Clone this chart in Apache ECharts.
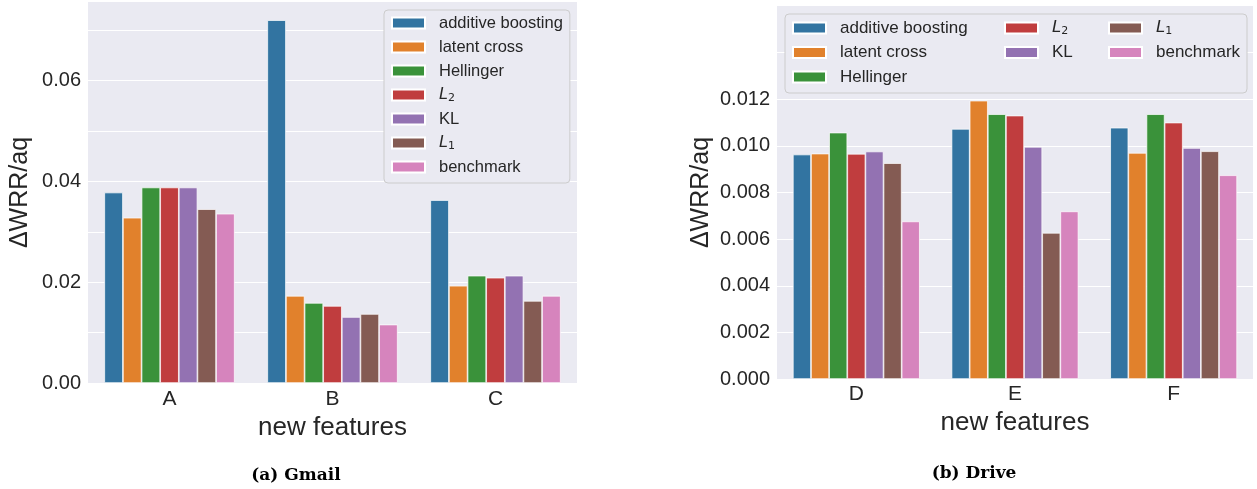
<!DOCTYPE html>
<html>
<head>
<meta charset="utf-8">
<script src="https://cdn.jsdelivr.net/npm/echarts@6/dist/echarts.min.js"></script>
<style>
  html, body { margin: 0; padding: 0; background: #fff; }
  #chart { width: 1257px; height: 489px; }
</style>
</head>
<body>
<div id="chart"></div>
<script>
// ---- data ----------------------------------------------------------------
const methods = ['additive boosting', 'latent cross', 'Hellinger', 'L2', 'KL', 'L1', 'benchmark'];
const palette = ['#3274a1', '#e1812c', '#3a923a', '#c03d3e', '#9372b2', '#845b53', '#d684bd'];

const gmailCats = ['A', 'B', 'C'];
const gmailAdditive  = [0.0378, 0.0720, 0.0363];
const gmailLatent    = [0.0328, 0.0173, 0.0193];
const gmailHellinger = [0.0388, 0.0159, 0.0213];
const gmailL2        = [0.0388, 0.0153, 0.0209];
const gmailKL        = [0.0388, 0.0131, 0.0213];
const gmailL1        = [0.0345, 0.0137, 0.0163];
const gmailBench     = [0.0336, 0.0116, 0.0173];
const gmailTicks = ['0.00', '0.02', '0.04', '0.06'];

const driveCats = ['D', 'E', 'F'];
const driveAdditive  = [0.00963, 0.01073, 0.01078];
const driveLatent    = [0.00967, 0.01194, 0.00970];
const driveHellinger = [0.01057, 0.01136, 0.01136];
const driveL2        = [0.00966, 0.01130, 0.01100];
const driveKL        = [0.00976, 0.00996, 0.00991];
const driveL1        = [0.00926, 0.00627, 0.00977];
const driveBench     = [0.00676, 0.00719, 0.00874];
const driveTicks = ['0.000', '0.002', '0.004', '0.006', '0.008', '0.010', '0.012'];

const gmailData = [gmailAdditive, gmailLatent, gmailHellinger, gmailL2, gmailKL, gmailL1, gmailBench];
const driveData = [driveAdditive, driveLatent, driveHellinger, driveL2, driveKL, driveL1, driveBench];

// ---- styling -------------------------------------------------------------
const textColor = '#262626';
const sans = 'Liberation Sans';
const bg = '#EAEAF2';

function legendName(name) {
  if (name === 'L2') return '{it|L}{sub|2}';
  if (name === 'L1') return '{it|L}{sub|1}';
  return name;
}

function legendText(size) {
  return {
    color: textColor,
    fontFamily: sans,
    fontSize: size,
    lineHeight: 18,
    padding: [0, 0, 0, 9],
    rich: {
      it: { fontStyle: 'italic', fontFamily: 'DejaVu Sans', fontSize: size - 0.5, lineHeight: 18, color: textColor },
      sub: { fontFamily: 'DejaVu Sans', fontSize: 11, lineHeight: 12, verticalAlign: 'bottom', color: textColor }
    }
  };
}

function yAxisFor(gridIndex, max, interval, ticks, decimals, gap) {
  return {
    type: 'value',
    gridIndex: gridIndex,
    min: 0,
    max: max,
    interval: interval,
    name: '\u0394WRR/aq',
    nameLocation: 'middle',
    nameGap: gap,
    nameTextStyle: { fontSize: 25, color: textColor, fontFamily: sans },
    axisLine: { show: false },
    axisTick: { show: false },
    axisLabel: {
      margin: 7,
      fontSize: 20,
      color: textColor,
      fontFamily: sans,
      showMaxLabel: false,
      formatter: function (v) {
        const s = v.toFixed(decimals);
        return ticks.indexOf(s) >= 0 ? s : '';
      }
    },
    splitLine: { show: true, showMaxLine: false, lineStyle: { color: '#ffffff', width: 1.2 } }
  };
}

function xAxisFor(gridIndex, cats, margin, gap) {
  return {
    type: 'category',
    gridIndex: gridIndex,
    data: cats,
    name: 'new features',
    nameLocation: 'middle',
    nameGap: gap,
    nameTextStyle: { fontSize: 26, color: textColor, fontFamily: sans },
    axisLine: { show: false },
    axisTick: { show: false },
    axisLabel: { margin: margin, fontSize: 21, color: textColor, fontFamily: sans }
  };
}

let series = [];
methods.forEach(function (m, i) {
  series.push({
    name: m, type: 'bar', xAxisIndex: 0, yAxisIndex: 0,
    data: gmailData[i],
    barGap: '0%', barCategoryGap: '20%',
    itemStyle: { color: palette[i], borderColor: '#ffffff', borderWidth: 0.7 }
  });
  series.push({
    name: m, type: 'bar', xAxisIndex: 1, yAxisIndex: 1,
    data: driveData[i],
    barGap: '0%', barCategoryGap: '20%',
    itemStyle: { color: palette[i], borderColor: '#ffffff', borderWidth: 0.7 }
  });
});

const chart = echarts.init(document.getElementById('chart'), null, { renderer: 'canvas' });
const option = {
  animation: false,
  color: palette,
  grid: [
    { left: 88, top: 2, width: 489, height: 381, show: true, backgroundColor: bg, borderWidth: 0 },
    { left: 777, top: 6, width: 476, height: 373, show: true, backgroundColor: bg, borderWidth: 0 }
  ],
  xAxis: [
    xAxisFor(0, gmailCats, 6, 29),
    xAxisFor(1, driveCats, 5, 28)
  ],
  yAxis: [
    yAxisFor(0, 0.0756, 0.01, gmailTicks, 2, 55),
    yAxisFor(1, 0.016, 0.002, driveTicks, 3, 63)
  ],
  legend: [
    {
      data: methods, orient: 'vertical', left: 384, top: 10,
      padding: [4, 7, 7, 7], itemGap: 6, itemWidth: 33, itemHeight: 11, icon: 'rect',
      backgroundColor: bg, borderColor: '#cccccc', borderWidth: 1, borderRadius: 4,
      selectedMode: false, formatter: legendName, textStyle: legendText(16.5), z: 10
    },
    {
      data: methods.slice(0, 3), orient: 'vertical', left: 792, top: 19,
      padding: 0, itemGap: 6.5, itemWidth: 33, itemHeight: 11, icon: 'rect',
      selectedMode: false, formatter: legendName, textStyle: legendText(17), z: 10
    },
    {
      data: methods.slice(3, 5), orient: 'vertical', left: 1004, top: 19,
      padding: 0, itemGap: 6.5, itemWidth: 33, itemHeight: 11, icon: 'rect',
      selectedMode: false, formatter: legendName, textStyle: legendText(17), z: 10
    },
    {
      data: methods.slice(5, 7), orient: 'vertical', left: 1108, top: 19,
      padding: 0, itemGap: 6.5, itemWidth: 33, itemHeight: 11, icon: 'rect',
      selectedMode: false, formatter: legendName, textStyle: legendText(17), z: 10
    }
  ],
  graphic: [
    {
      type: 'rect', z: 5,
      shape: { x: 785, y: 14, width: 462, height: 79, r: 4 },
      style: { fill: bg, stroke: '#cccccc', lineWidth: 1 }
    },
    {
      type: 'text', x: 296, y: 476,
      style: { text: '(a) Gmail', textAlign: 'center', textVerticalAlign: 'middle',
               font: 'bold 17px "DejaVu Serif"', fill: '#000' }
    },
    {
      type: 'text', x: 974, y: 474,
      style: { text: '(b) Drive', textAlign: 'center', textVerticalAlign: 'middle',
               font: 'bold 17px "DejaVu Serif"', fill: '#000' }
    }
  ],
  series: series
};
option && chart.setOption(option);
</script>
</body>
</html>
